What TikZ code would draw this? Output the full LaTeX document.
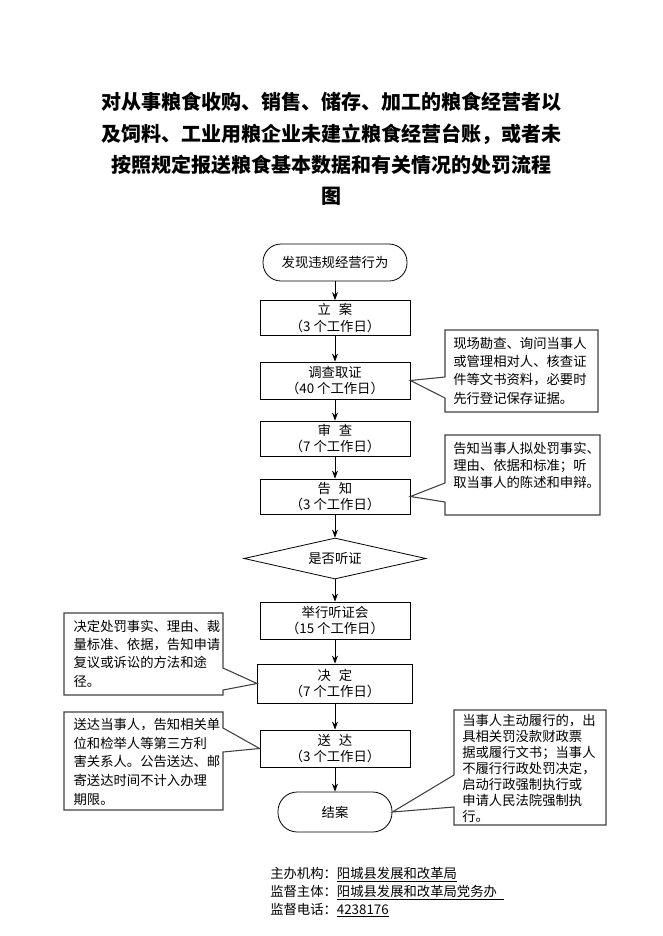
\documentclass[tikz,border=0pt]{standalone}
\usepackage{fontspec}
\setmainfont{Noto Sans CJK SC}
\usetikzlibrary{shapes.geometric,arrows.meta,positioning}

\begin{document}
\begin{tikzpicture}[x=0.75pt,y=-0.75pt,>={Stealth[length=6pt,width=4.5pt]},
    proc/.style={draw,line width=0.6pt,minimum width=112.5pt,minimum height=26.25pt,
      inner sep=1pt,align=center,font=\fontsize{10}{12.5}\selectfont},
    term/.style={draw,line width=0.6pt,inner sep=1pt,font=\fontsize{10}{12}\selectfont},
    judge/.style={draw,line width=0.6pt,diamond,aspect=4.4,inner sep=0pt,
      minimum width=136.5pt,minimum height=30.75pt,font=\fontsize{10}{12}\selectfont},
    note/.style={draw=black!75,line width=0.8pt,line join=miter},
    notetext/.style={anchor=north west,align=left,inner sep=0pt,font=\fontsize{10}{#1}\selectfont},
    link/.style={->,line width=0.6pt}]
  \useasboundingbox (0,0) rectangle (662,936);

  % title
  \node[align=center,font=\fontsize{15}{23.5}\selectfont\bfseries] (title) at (331,149)
    {对从事粮食收购、销售、储存、加工的粮食经营者以\\及饲料、工业用粮企业未建立粮食经营台账，或者未\\按照规定报送粮食基本数据和有关情况的处罚流程\\图};

  % main flow
  \node[term,minimum width=108pt,minimum height=27.75pt,rounded corners=13.5pt] (found) at (335,262.5) {发现违规经营行为};
  \node[proc] (lian) at (335,318) {立\hspace{0.6em}案\\（3 个工作日）};
  \node[proc,minimum height=27.75pt] (survey) at (335,380.5) {调查取证\\（40 个工作日）};
  \node[proc] (review) at (335,438.5) {审\hspace{0.6em}查\\（7 个工作日）};
  \node[proc] (inform) at (335,496.5) {告\hspace{0.6em}知\\（3 个工作日）};
  \node[judge] (hearq) at (335,558.5) {是否听证};
  \node[proc,minimum height=27.75pt] (hearing) at (335,620.5) {举行听证会\\（15 个工作日）};
  \node[proc,minimum width=116.25pt,minimum height=29.25pt] (decide) at (335,683.5) {决\hspace{0.6em}定\\（7 个工作日）};
  \node[proc,minimum height=27.75pt] (deliver) at (335,748.5) {送\hspace{0.6em}达\\（3 个工作日）};
  \node[term,minimum width=85.5pt,minimum height=30pt,rounded corners=14.5pt] (close) at (335,812) {结案};

  \draw[link] (found) -- (lian);
  \draw[link] (lian) -- (survey);
  \draw[link] (survey) -- (review);
  \draw[link] (review) -- (inform);
  \draw[link] (inform) -- (hearq);
  \draw[link] (hearq) -- (hearing);
  \draw[link] (hearing) -- (decide);
  \draw[link] (decide) -- (deliver);
  \draw[link] (deliver) -- (close);

  % callouts
  \coordinate (n1nw) at (445,330); \coordinate (n1se) at (598,412);
  \draw[note] (n1nw) -- (n1nw -| n1se) -- (n1se) -- (n1se -| n1nw) -- (n1nw |- 0,398)
    -- (survey.east) -- (n1nw |- 0,377) -- cycle;
  \node[notetext=13.75pt] (n1) at ([xshift=6pt,yshift=-5pt]n1nw)
    {现场勘查、询问当事人\\或管理相对人、核查证\\件等文书资料，必要时\\先行登记保存证据。};

  \coordinate (n2nw) at (445,435); \coordinate (n2se) at (600,515);
  \draw[note] (n2nw) -- (n2nw -| n2se) -- (n2se) -- (n2se -| n2nw) -- (n2nw |- 0,502)
    -- (inform.east) -- (n2nw |- 0,483) -- cycle;
  \node[notetext=13pt] (n2) at ([xshift=6pt,yshift=-5pt]n2nw)
    {告知当事人拟处罚事实、\\理由、依据和标准；听\\取当事人的陈述和申辩。};

  \coordinate (n3nw) at (64,613); \coordinate (n3se) at (223,695);
  \draw[note] (n3nw) -- (n3nw -| n3se) -- (n3se |- 0,668) -- (decide.west)
    -- (n3se |- 0,690) -- (n3se) -- (n3se -| n3nw) -- cycle;
  \node[notetext=13.75pt] (n3) at ([xshift=7pt,yshift=-5pt]n3nw)
    {决定处罚事实、理由、裁\\量标准、依据，告知申请\\复议或诉讼的方法和途\\径。};

  \coordinate (n4nw) at (64,712); \coordinate (n4se) at (223,810);
  \draw[note] (n4nw) -- (n4nw -| n4se) -- (n4se |- 0,728) -- (deliver.west)
    -- (n4se |- 0,752) -- (n4se) -- (n4se -| n4nw) -- cycle;
  \node[notetext=14pt] (n4) at ([xshift=7pt,yshift=-4.5pt]n4nw)
    {送达当事人，告知相关单\\位和检举人等第三方利\\害关系人。公告送达、邮\\寄送达时间不计入办理\\期限。};

  \coordinate (n5nw) at (454,710); \coordinate (n5se) at (606,825);
  \draw[note] (n5nw) -- (n5nw -| n5se) -- (n5se) -- (n5se -| n5nw) -- (n5nw |- 0,807)
    -- (close.east) -- (n5nw |- 0,775) -- cycle;
  \node[notetext=12pt] (n5) at ([xshift=6pt,yshift=-3pt]n5nw)
    {当事人主动履行的，出\\具相关罚没款财政票\\据或履行文书；当事人\\不履行行政处罚决定，\\启动行政强制执行或\\申请人民法院强制执\\行。};

  % footer
  \node[anchor=west,inner sep=0pt,font=\fontsize{10}{12}\selectfont] (org) at (270,875)
    {主办机构：\underline{阳城县发展和改革局}};
  \node[anchor=west,inner sep=0pt,font=\fontsize{10}{12}\selectfont] (super) at (270,893)
    {监督主体：\underline{阳城县发展和改革局党务办\hspace{5pt}}};
  \node[anchor=west,inner sep=0pt,font=\fontsize{10}{12}\selectfont] (phone) at (270,910)
    {监督电话：\underline{4238176}};
\end{tikzpicture}
\end{document}
